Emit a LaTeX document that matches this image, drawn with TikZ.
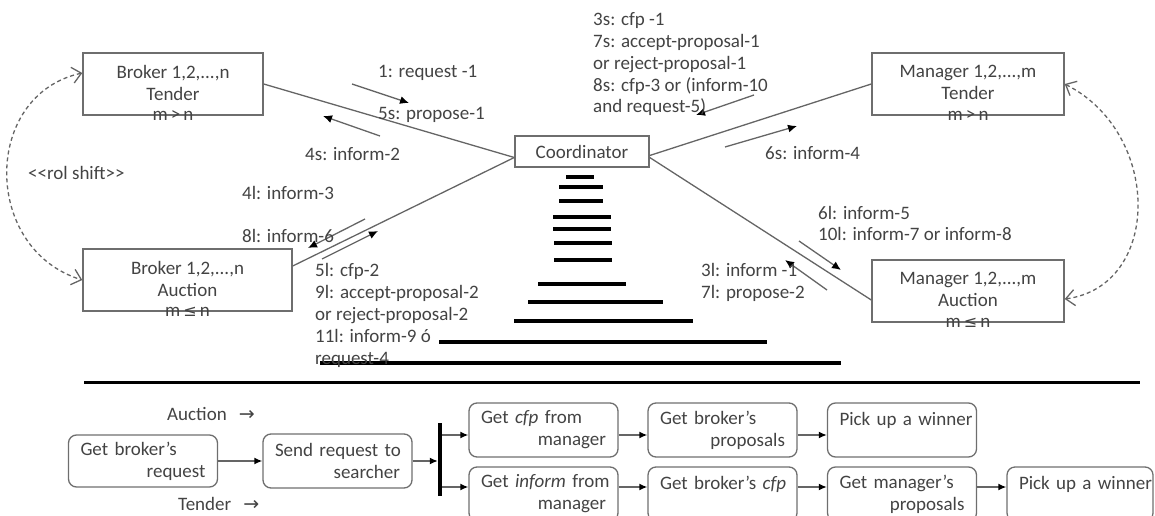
\documentclass[tikz,border=0pt]{standalone}
\usepackage{fontspec}
\setmainfont{Carlito}
\newfontfamily\symfont{DejaVu Sans}
\usetikzlibrary{arrows.meta}
\definecolor{ink}{HTML}{434343}
\definecolor{edge}{HTML}{6E6E6E}
\definecolor{wire}{HTML}{656565}

\begin{document}
\begin{tikzpicture}[x=1pt,y=-1pt,
  every node/.style={font=\fontsize{19}{22}\selectfont, text=ink},
  agent/.style={draw=edge, line width=1.4pt, minimum height=62pt, inner sep=0pt, align=center},
  lab/.style={anchor=base west, inner sep=0pt},
  link/.style={draw=wire, line width=1.3pt},
  msg/.style={draw=wire, line width=1.3pt, -{Latex[length=9pt,width=8pt,color=black]}},
  roleshift/.style={draw=wire, line width=1.3pt, dash pattern=on 4pt off 3pt,
    {Straight Barb[length=9pt,width=16pt]}-{Straight Barb[length=9pt,width=16pt]}},
  bar/.style={draw=black, line width=4pt},
  task/.style={draw=edge, line width=1.3pt, rounded corners=8pt, minimum width=149pt,
    minimum height=54pt, text width=125pt, inner xsep=12pt, inner ysep=0pt, align=left},
  flow/.style={draw=wire, line width=1.5pt, -{Latex[length=8pt,width=7pt,color=black]}}
]
\useasboundingbox (0,0) rectangle (1155,516);
\clip (0,0) rectangle (1155,516);

% ---- agents ----
\node[agent, minimum width=180pt] (bt) at (173,84) {Broker 1,2,...,n\\Tender\vphantom{y}};
\node (btc) at (bt.south) {m\,>\,n};
\node[agent, minimum width=209pt] (ba) at (187.5,280) {Broker 1,2,...,n\\Auction\vphantom{y}};
\node (bac) at (ba.south) {m\,{\symfont\fontsize{16}{18}\selectfont ≤}\,n};
\node[agent, minimum width=134pt, minimum height=31pt] (co) at (582,151.5) {Coordinator};
\node[agent, minimum width=192pt] (mt) at (968,84) {Manager 1,2,...,m\\Tender\vphantom{y}};
\node (mtc) at (mt.south) {m\,>\,n};
\node[agent, minimum width=192pt] (ma) at (968,291) {Manager 1,2,...,m\\Auction\vphantom{y}};
\node (mac) at (ma.south) {m\,{\symfont\fontsize{16}{18}\selectfont ≤}\,n};

% ---- links to the coordinator ----
\draw[link] (bt.east) -- ([yshift=-6pt]co.west);
\draw[link] ([yshift=14pt]ba.east) -- ([yshift=-6pt]co.west);
\draw[link] ([yshift=-4pt]co.east) -- (mt.west);
\draw[link] ([yshift=-6pt]co.east) -- ([yshift=-9pt]ma.west);

% ---- role shift ----
\draw[roleshift] ([yshift=11pt]bt.west) .. controls (-18,95) and (-18,249) .. (ba.west);
\draw[roleshift] (mt.east) .. controls (1162,133) and (1162,286) .. ([yshift=-8pt]ma.east);
\node[lab] (rs) at (28,179) {<{}<rol shift>{}>};

% ---- message arrows ----
\coordinate (a1s) at (352,84);  \coordinate (a1e) at (409,103);
\coordinate (a2s) at (380,136); \coordinate (a2e) at (323,116);
\coordinate (a3s) at (365,219); \coordinate (a3e) at (308,248);
\coordinate (a4s) at (322,259); \coordinate (a4e) at (378,231);
\coordinate (a5s) at (754,95);  \coordinate (a5e) at (696,115);
\coordinate (a6s) at (725,147); \coordinate (a6e) at (797,126);
\coordinate (a7s) at (799,241); \coordinate (a7e) at (841,270);
\coordinate (a8s) at (827,290); \coordinate (a8e) at (785,260);
\foreach \k in {1,...,8} \draw[msg] (a\k s) -- (a\k e);

% ---- message labels ----
\node[lab] (l1) at (378,77.5) {1: request -1};
\node[lab] (l2) at (378,120) {5s: propose-1};
\node[lab] (l3) at (305,160) {4s: inform-2};
\node[lab] (l4) at (242,199) {4l: inform-3};
\node[lab] (l5) at (242,242) {8l: inform-6};
\node[lab] (l6) at (765,159) {6s: inform-4};
\node[lab] (l7) at (818,219) {6l: inform-5};
\node[lab] (l8) at (818,240) {10l: inform-7 or inform-8};
\node[lab] (l9) at (701,276) {3l: inform -1};
\node[lab] (l10) at (701,298) {7l: propose-2};
\foreach \t [count=\i from 0] in {{3s: cfp -1},{7s: accept-proposal-1},{or reject-proposal-1},{8s: cfp-3 or (inform-10},{and request-5)}}
  \node[lab] (tr\i) at (593,26+21.7*\i) {\t};

% ---- stacked bars under the coordinator ----
\foreach \xa/\xb/\yy in {566/594/177, 559/603/187, 559/603/201, 553/611/217, 553/611/229,
  554/612/243, 554/612/260, 538/626/284, 528/663/302, 514/693/321, 439/767/342, 320/841/363}
  \draw[bar] (\xa,\yy) -- (\xb,\yy);

\foreach \t [count=\i from 0] in {{5l: cfp-2},{9l: accept-proposal-2},{or reject-proposal-2},{11l: inform-9 ó},{request-4}}
  \node[lab] (bl\i) at (315,276+22*\i) {\t};

% ---- separator ----
\draw[line width=3pt] (84,382) -- (1140,382);

% ---- process flow ----
\node[lab] (auc) at (167,420) {Auction\hspace{12pt}{\symfont →}};
\node[lab] (ten) at (178,510) {Tender\hspace{12pt}{\symfont →}};

\node[task, minimum width=148pt, minimum height=52pt] (gb) at (143,461) {\mbox{Get broker’s}\\\hspace*{\fill}request};
\node[task] (sr) at (337.5,461) {\mbox{Send request to}\\\hspace*{\fill}searcher};
\node[fill=black, minimum width=4pt, minimum height=73pt, inner sep=0pt] (fork) at (440,459.5) {};
\node[task] (gc) at (543.5,430) {\mbox{Get \textit{cfp} from}\\\hspace*{\fill}manager};
\node[task] (gbp) at (722.5,430) {\mbox{Get broker’s}\\\hspace*{\fill}proposals};
\node[task] (pw1) at (902,430) {\mbox{Pick up a winner}\\\mbox{}};
\node[task] (gi) at (543.5,494) {\mbox{Get \textit{inform} from}\\\hspace*{\fill}manager};
\node[task] (gbc) at (722.5,494) {\mbox{Get broker’s \textit{cfp}}\\\mbox{}};
\node[task] (gmp) at (902,494) {\mbox{Get manager’s}\\\hspace*{\fill}proposals};
\node[task, minimum width=146pt, text width=122pt] (pw2) at (1080,494) {\mbox{Pick up a winner}\\\mbox{}};

\coordinate (r1) at ([yshift=-5pt]gc.west);
\coordinate (r2) at ([yshift=7pt]gi.west);
\draw[flow] (gb.east) -- (sr.west);
\draw[flow] (sr.east) -- (sr.east -| fork.west);
\draw[flow] (r1 -| fork.east) -- (r1);
\draw[flow] (r2 -| fork.east) -- (r2);
\draw[flow] (gc.east |- r1) -- (gbp.west |- r1);
\draw[flow] (gbp.east |- r1) -- (pw1.west |- r1);
\draw[flow] (gi.east |- r2) -- (gbc.west |- r2);
\draw[flow] (gbc.east |- r2) -- (gmp.west |- r2);
\draw[flow] (gmp.east |- r2) -- (pw2.west |- r2);
\end{tikzpicture}
\end{document}
